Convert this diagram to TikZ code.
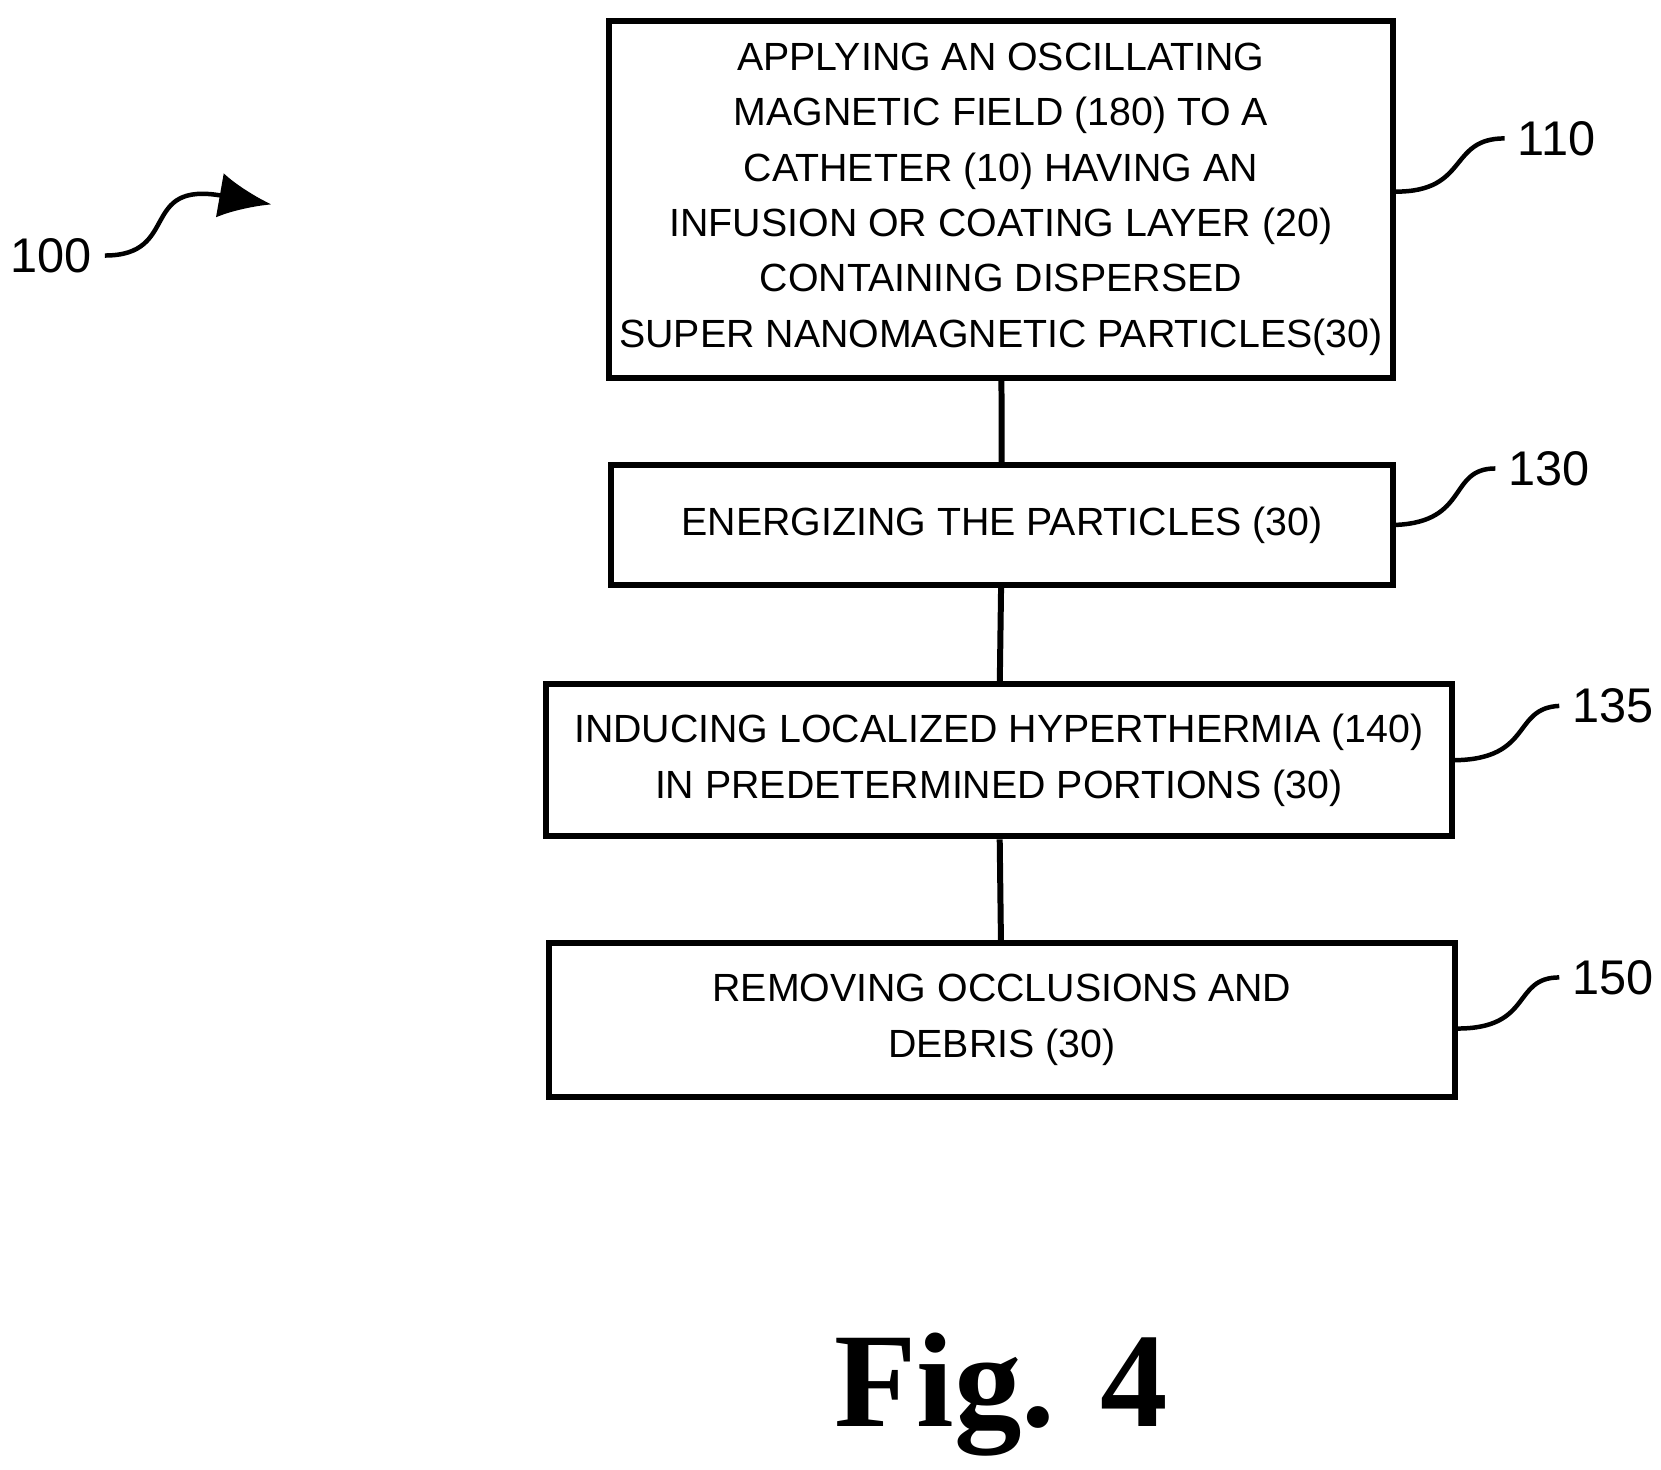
\documentclass[tikz,border=0pt]{standalone}
\usetikzlibrary{arrows.meta}
\usepackage{fontspec}
\setmainfont{Liberation Sans}
\newfontfamily\figfont{Liberation Serif}
\begin{document}
\begin{tikzpicture}[x=0.01cm,y=-0.01cm]
\tikzset{ >=latex, stepbox/.style={draw, line width=1.6pt, align=center, inner sep=0pt,
  font=\fontsize{10.5}{14.8}\selectfont}, ref/.style={font=\fontsize{13}{13}\selectfont}, squig/.style={line width=1.2pt} }

\useasboundingbox (0,0) rectangle (1560,1380);

%%% Blocos

% campo magnetico
\node [stepbox, minimum width=7.36cm, minimum height=3.35cm] (APPLY) at (940,187) {APPLYING AN OSCILLATING\\MAGNETIC FIELD (180) TO A\\CATHETER (10) HAVING AN\\INFUSION OR COATING LAYER (20)\\CONTAINING DISPERSED\\SUPER NANOMAGNETIC PARTICLES(30)};

% energizar
\node [stepbox, minimum width=7.34cm, minimum height=1.12cm] (ENER) at (941,493) {ENERGIZING THE PARTICLES (30)};

% hipertermia
\node [stepbox, minimum width=8.5cm, minimum height=1.43cm] (HYPER) at (938,714) {INDUCING LOCALIZED HYPERTHERMIA (140)\\IN PREDETERMINED PORTIONS (30)};

% remover
\node [stepbox, minimum width=8.5cm, minimum height=1.44cm] (REMOVE) at (941,958) {REMOVING OCCLUSIONS AND\\DEBRIS (30)};

% referencias
\node [ref] (R110) at (1462,130) {110};
\node [ref] (R130) at (1455,440) {130};
\node [ref] (R135) at (1515,663) {135};
\node [ref] (R150) at (1515,918) {150};
\node [ref] (R100) at (48,240) {100};
\node [font=\figfont\bfseries\fontsize{36}{36}\selectfont] (FIG) at (940,1310) {Fig. 4};
\coordinate (TIP100) at (255,192);

%%% Linhas

\draw [line width=1.6pt] (APPLY) -- (ENER);
\draw [line width=1.6pt] (ENER) -- (HYPER);
\draw [line width=1.6pt] (HYPER) -- (REMOVE);

\draw [squig] (APPLY.east |- 0,180) .. controls (1380,180) and (1360,130) .. (R110.west);
\draw [squig] (ENER.east) .. controls (1380,490) and (1360,440) .. (R130.west);
\draw [squig] (HYPER.east) .. controls (1440,713) and (1420,665) .. (R135.west);
\draw [squig] (REMOVE.east |- 0,966) .. controls (1440,966) and (1420,918) .. (R150.west);
\draw [squig, -{Latex[length=14pt,width=12pt]}] (R100.east) .. controls (170,240) and (130,170) .. (TIP100);

\end{tikzpicture}
\end{document}
